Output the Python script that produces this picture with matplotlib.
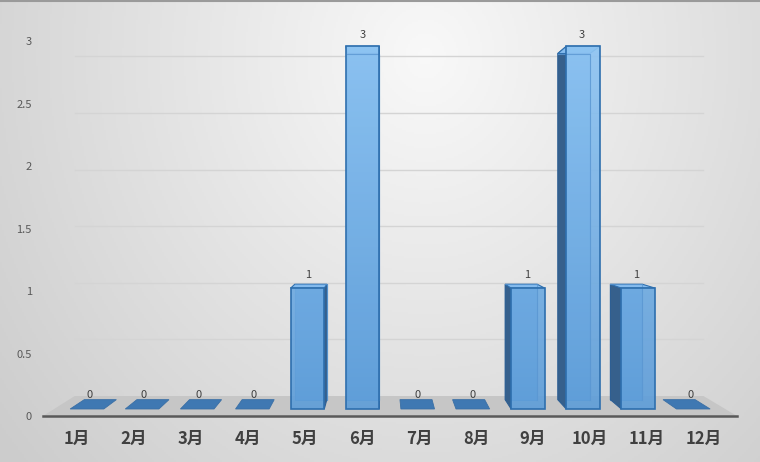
import numpy as np
import matplotlib.pyplot as plt
from matplotlib.patches import Polygon
from matplotlib.lines import Line2D
from matplotlib.colors import LinearSegmentedColormap

plt.rcParams['font.family'] = ['Noto Sans CJK SC', 'DejaVu Sans']

# dane
months = ['1月', '2月', '3月', '4月', '5月', '6月', '7月', '8月', '9月', '10月', '11月', '12月']
counts = [0, 0, 0, 0, 1, 3, 0, 0, 1, 3, 1, 0]
y_ticks = [0, 0.5, 1, 1.5, 2, 2.5, 3]
y_tick_labels = ['0', '0.5', '1', '1.5', '2', '2.5', '3']

# pseudo-3D: punkt zbiegu i glebokosci (0 = przednia krawedz podlogi)
VP = (5.32, 1.70)
T_FRONT, T_BACK, T_WALL = 0.033, 0.077, 0.094
HALF_W = 0.305


def proj(x, y, t):
    return (x + t * (VP[0] - x), y + t * (VP[1] - y))


fig = plt.figure(figsize=(7.6, 4.62), dpi=100)

# tlo z gradientem
bg = fig.add_axes([0, 0, 1, 1], zorder=-2)
gx, gy = np.meshgrid(np.linspace(0, 1, 380), np.linspace(0, 1, 231))
r = np.sqrt(((gx - 0.56) / 0.62) ** 2 + ((gy - 0.12) / 1.15) ** 2)
shade = np.clip(0.975 - 0.15 * r, 0.8, 1)
bg.imshow(np.dstack([shade] * 3), extent=[0, 1, 0, 1], aspect='auto', origin='upper')
bg.set_axis_off()
fig.add_artist(Line2D([0, 1], [0.998, 0.998], color='#9a9a9a', lw=1.5))

ax = fig.add_axes([43 / 760, 46 / 462, 694 / 760, 406 / 462])
ax.patch.set_visible(False)
x0, x1 = -0.596, 11.579

# podloga
floor = [(x0, 0), (x1, 0), proj(x1, 0, T_WALL), proj(x0, 0, T_WALL)]
ax.add_patch(Polygon(floor, closed=True, facecolor='#c6c6c6', edgecolor='none', zorder=1))

# linie siatki na tylnej scianie
for v in y_ticks[1:]:
    a = proj(x0, v, T_WALL)
    b = proj(x1, v, T_WALL)
    ax.plot([a[0], b[0]], [a[1], b[1]], color='#d4d4d4', lw=1, zorder=0.5)

grad = LinearSegmentedColormap.from_list('bar', ['#5e9dd8', '#8fc5f3'])
grad_img = np.linspace(0, 1, 200).reshape(-1, 1)

for i, v in enumerate(counts):
    fl_b = proj(i - HALF_W, 0, T_FRONT)
    fr_b = proj(i + HALF_W, 0, T_FRONT)
    fr_t = proj(i + HALF_W, v, T_FRONT)
    fl_t = proj(i - HALF_W, v, T_FRONT)
    bl_b = proj(i - HALF_W, 0, T_BACK)
    br_b = proj(i + HALF_W, 0, T_BACK)
    br_t = proj(i + HALF_W, v, T_BACK)
    bl_t = proj(i - HALF_W, v, T_BACK)

    if v == 0:
        ax.add_patch(Polygon([fl_b, fr_b, br_b, bl_b], closed=True,
                             facecolor='#3f78b2', edgecolor='#3a6fa5', lw=0.6, zorder=3))
    else:
        # tylna sciana (przeswituje)
        ax.add_patch(Polygon([bl_b, br_b, br_t, bl_t], closed=True,
                             facecolor='#6aa6e0', edgecolor='#4f8cc9', lw=0.8, zorder=3))
        if i < VP[0]:
            side = [fr_b, br_b, br_t, fr_t]
        else:
            side = [fl_b, bl_b, bl_t, fl_t]
        ax.add_patch(Polygon(side, closed=True, facecolor='#36608c',
                             edgecolor='#2e5f93', lw=0.8, zorder=4))
        ax.add_patch(Polygon([fl_t, fr_t, br_t, bl_t], closed=True,
                             facecolor='#84bbee', edgecolor='#2e6fae', lw=0.8, zorder=4))
        front = Polygon([fl_b, fr_b, fr_t, fl_t], closed=True, facecolor='none',
                        edgecolor='#2e6fae', lw=1.2, zorder=6)
        ax.add_patch(front)
        im = ax.imshow(grad_img, cmap=grad, extent=[x0, x1, 0, 3.0], origin='lower',
                       aspect='auto', alpha=0.92, zorder=5)
        im.set_clip_path(front)
        # wewnetrzne krawedzie tylnej sciany
        ax.plot([bl_t[0], br_t[0], br_b[0]], [bl_t[1], br_t[1], br_b[1]],
                color='#5b97d2', lw=0.8, alpha=0.8, zorder=5.5)

    ax.annotate(str(v), xy=proj(i, v, T_FRONT + 0.007), xytext=(0, 9),
                textcoords='offset points', ha='center', va='center',
                fontsize=8, color='#404040', zorder=7)

ax.set_xlim(x0, x1)
ax.set_ylim(0, 3.248)

ax.set_xticks(range(len(months)))
ax.set_xticklabels(months, fontsize=12, fontweight='bold', color='#404040')
ax.set_yticks(y_ticks)
ax.set_yticklabels(y_tick_labels, fontsize=8, color='#595959')
ax.tick_params(axis='x', length=0, pad=10)
ax.tick_params(axis='y', length=0, pad=8)

for s in ['top', 'right', 'left']:
    ax.spines[s].set_visible(False)
ax.spines['bottom'].set_color('#595959')
ax.spines['bottom'].set_linewidth(1.8)
ax.spines['bottom'].set_zorder(8)

plt.savefig('out.png', dpi=100)
plt.close()
